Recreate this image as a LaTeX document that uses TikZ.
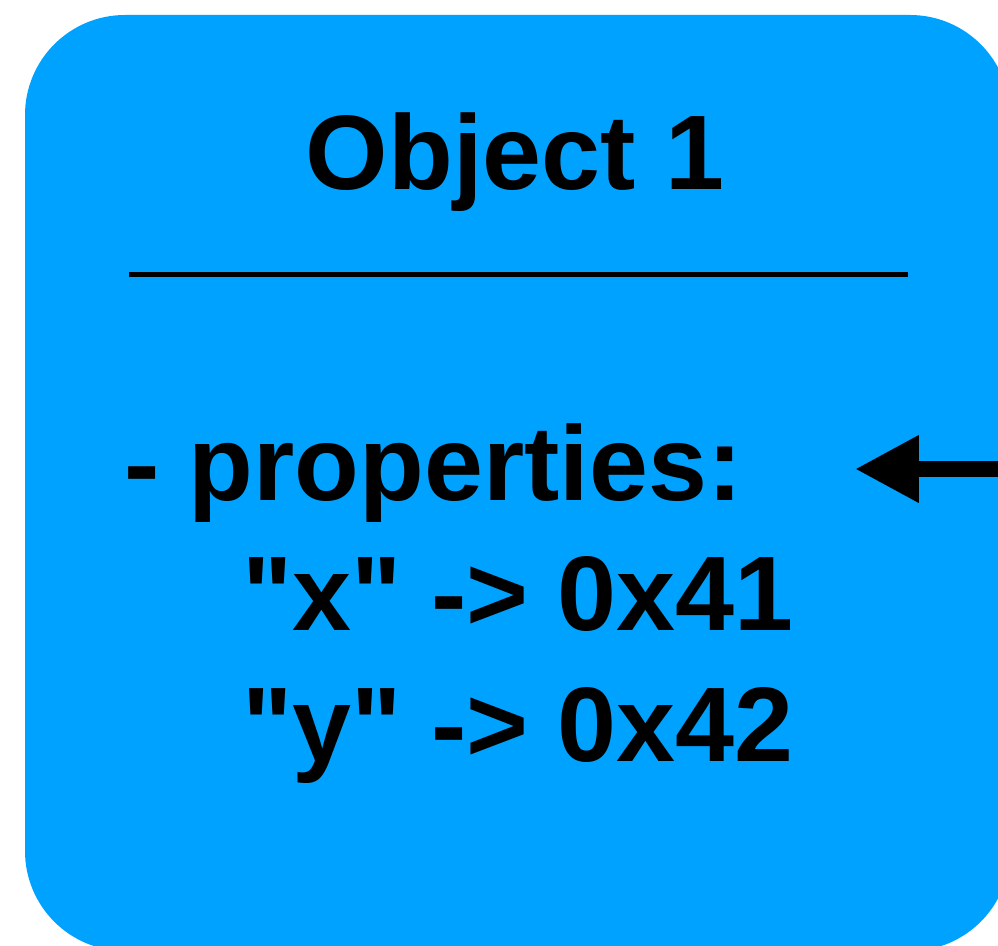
\documentclass[tikz,border=0pt]{standalone}
\usepackage{fontspec}
\newfontfamily\objfont{Liberation Sans}
\usetikzlibrary{arrows.meta,positioning}
\definecolor{objblue}{RGB}{0,162,255}
\tikzset{
  objbox/.style={fill=objblue, rounded corners=100pt, minimum width=985pt,
                 minimum height=936pt, inner sep=0pt},
  txt/.style   ={font=\objfont\bfseries\fontsize{106}{130}\selectfont, inner sep=0pt},
  rule/.style  ={line width=5pt},
  ptr/.style   ={-{Triangle[length=64pt,width=63pt]}, line width=16pt},
}
\begin{document}
\begin{tikzpicture}[x=1pt,y=1pt]
\clip (0,0) rectangle (998,945);

\node[objbox] (obj) at (517.5,462) {};
\node[txt, anchor=base] (title) at (515,755) {Object 1};
\coordinate (rl) at (129,670.5);
\coordinate (rr) at (908,670.5);
\node[txt, anchor=base west] (props) at (124,444) {- properties:};
\node[txt, anchor=base] (keyx) at (518,314) {"x" -> 0x41};
\node[txt, anchor=base] (keyy) at ([yshift=-131pt]keyx.base) {"y" -> 0x42};
\coordinate (src) at (1010,476);

\draw[rule] (rl) -- (rr);
\draw[ptr, shorten >=112pt] (src) -- (src -| props.east);

\end{tikzpicture}
\end{document}
